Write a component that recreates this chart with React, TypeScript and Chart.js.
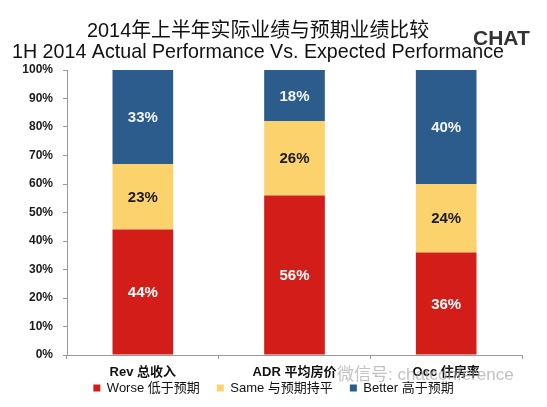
import React, { useEffect, useRef } from 'react';
import { Chart, registerables, type ChartConfiguration, type Plugin } from 'chart.js';

Chart.register(...registerables);

const FONT = '"Liberation Sans", Arial, "Noto Sans CJK SC", sans-serif';

const categories = ['Rev 总收入', 'ADR 平均房价', 'Occ 住房率'];
const seriesNames = ['Worse 低于预期', 'Same 与预期持平', 'Better 高于预期'];
const worse = [44, 56, 36];
const same = [23, 26, 24];
const better = [33, 18, 40];
const seriesColors = ['#d21d18', '#fcd26c', '#2b5c8c'];
const labelColors = ['#ffffff', '#1a1a1a', '#f2f4f8'];

const titleZh = '2014年上半年实际业绩与预期业绩比较';
const titleEn = '1H 2014 Actual Performance Vs. Expected Performance';
const logoText = 'CHAT';
const watermark = '微信号: chatconference';

const valueLabels: Plugin = {
  id: 'valueLabels',
  afterDatasetsDraw(chart) {
    const { ctx } = chart;
    ctx.save();
    ctx.font = `bold 15px ${FONT}`;
    ctx.textAlign = 'center';
    ctx.textBaseline = 'middle';
    chart.data.datasets.forEach((ds, di) => {
      const meta = chart.getDatasetMeta(di);
      meta.data.forEach((bar, i) => {
        const { x, y, base } = bar.getProps(['x', 'y', 'base'], true) as any;
        ctx.fillStyle = labelColors[di];
        ctx.fillText(`${ds.data[i]}%`, x, (y + base) / 2 + 1);
      });
    });
    ctx.restore();
  },
};

// category labels drawn under the x scale (the scale's own labels would be clipped
// because the legend sits right underneath)
const categoryLabels: Plugin = {
  id: 'categoryLabels',
  afterDraw(chart) {
    const { ctx } = chart;
    const x = chart.scales.x;
    ctx.save();
    ctx.font = `bold 13px ${FONT}`;
    ctx.fillStyle = '#111';
    ctx.textAlign = 'center';
    ctx.textBaseline = 'middle';
    categories.forEach((c, i) => {
      ctx.fillText(c, x.getPixelForValue(i), x.top + 17);
    });
    ctx.restore();
  },
};

const headings: Plugin = {
  id: 'headings',
  afterDraw(chart) {
    const { ctx } = chart;
    ctx.save();
    ctx.fillStyle = '#111';
    ctx.textAlign = 'center';
    ctx.textBaseline = 'alphabetic';
    ctx.font = `20px ${FONT}`;
    ctx.fillText(titleZh, 258, 37, 342);
    ctx.font = `21px ${FONT}`;
    ctx.fillText(titleEn, 258, 58, 492);
    ctx.textAlign = 'left';
    ctx.fillStyle = '#333';
    ctx.font = `bold 21px ${FONT}`;
    ctx.fillText(logoText, 473, 45, 57);
    ctx.fillStyle = 'rgba(160,160,160,0.65)';
    ctx.font = `17px ${FONT}`;
    ctx.fillText(watermark, 337, 380, 190);
    ctx.restore();
  },
};

export default function App() {
  const canvasRef = useRef<HTMLCanvasElement>(null);

  useEffect(() => {
    if (!canvasRef.current) return;
    const data = [worse, same, better];
    const config: ChartConfiguration = {
      type: 'bar',
      data: {
        labels: categories,
        datasets: seriesNames.map((name, i) => ({
          label: name,
          data: data[i],
          backgroundColor: seriesColors[i],
          borderWidth: 0,
          barPercentage: 0.4,
          categoryPercentage: 1,
          stack: 's',
        })),
      },
      options: {
        responsive: true,
        maintainAspectRatio: false,
        animation: false,
        layout: { padding: { top: 70, left: 0, right: 0, bottom: 2.5 } },
        plugins: {
          title: { display: false },
          tooltip: { enabled: false },
          legend: {
            position: 'bottom',
            labels: {
              boxWidth: 7,
              boxHeight: 7,
              padding: 17,
              color: '#111',
              font: { size: 13, family: FONT },
            },
          },
        },
        scales: {
          x: {
            stacked: true,
            grid: { drawOnChartArea: false, drawTicks: true, tickLength: 4, color: '#999', offset: true },
            border: { color: '#999' },
            ticks: { display: false },
            afterFit: (s: any) => { s.height = 9.5; },
          },
          y: {
            stacked: true,
            min: 0,
            max: 100,
            grid: { drawOnChartArea: false, drawTicks: true, tickLength: 4, color: '#999' },
            border: { color: '#999' },
            ticks: {
              stepSize: 10,
              padding: 10,
              color: '#1a1a1a',
              font: { size: 12, weight: 'bold', family: FONT },
              callback: v => `${v}%`,
            },
            afterFit: (s: any) => { s.width = 67; },
          },
          y2: {
            position: 'right',
            min: 0,
            max: 1,
            grid: { display: false },
            border: { display: false },
            ticks: { display: false },
            afterFit: (s: any) => { s.width = 25; },
          },
        },
      } as any,
      plugins: [valueLabels, categoryLabels, headings],
    };
    const chart = new Chart(canvasRef.current, config);
    return () => { chart.destroy(); };
  }, []);

  return (
    <div style={{ position: 'absolute', left: 0, top: 0, width: 547, height: 407, background: '#fff' }}>
      <canvas ref={canvasRef} role="img" aria-label="2014年上半年实际业绩与预期业绩比较 stacked bar chart" />
    </div>
  );
}
